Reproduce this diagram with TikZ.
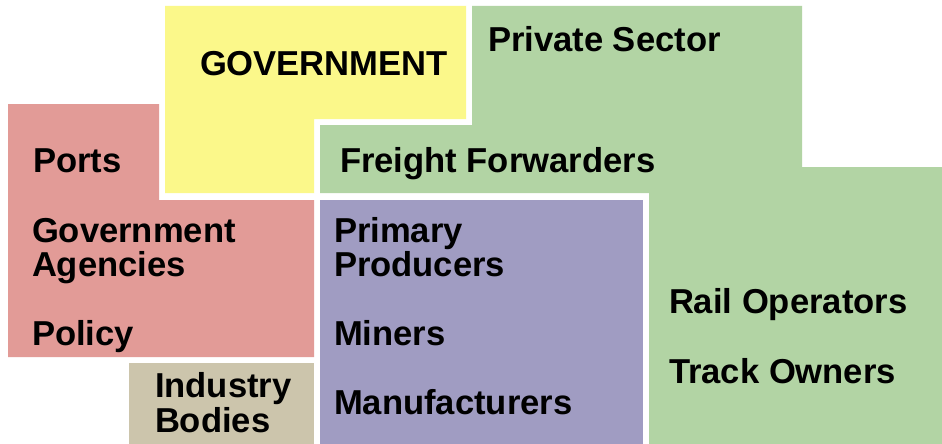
\documentclass[tikz,border=0pt]{standalone}
\usepackage{fontspec}
\setmainfont{Liberation Sans}
\definecolor{govyellow}{HTML}{FBF88A}
\definecolor{privgreen}{HTML}{B2D4A4}
\definecolor{agencyred}{HTML}{E29B97}
\definecolor{bodytan}{HTML}{CCC5AC}
\definecolor{producerpurple}{HTML}{A09CC2}
\begin{document}
\begin{tikzpicture}[x=1pt,y=-1pt,
  label/.style={anchor=base west,inner sep=0pt,outer sep=0pt,
    font=\fontsize{34.6}{35}\selectfont\bfseries,text=black}]
\useasboundingbox (0,0) rectangle (942,444);
\fill[white] (0,0) rectangle (942,444);

% sector regions
\fill[govyellow] (165,6) -- (466,6) -- (466,119) -- (314,119) -- (314,193) -- (165,193) -- cycle;
\fill[privgreen] (472,6) -- (802,6) -- (802,167) -- (942,167) -- (942,444)
  -- (649,444) -- (649,193) -- (320,193) -- (320,125) -- (472,125) -- cycle;
\fill[agencyred] (8,104) -- (159,104) -- (159,200) -- (314,200) -- (314,357) -- (8,357) -- cycle;
\fill[bodytan] (129,363) rectangle (314,444);
\fill[producerpurple] (320,200) rectangle (643,444);

% labels
\node[label] (gov) at (200,75) {GOVERNMENT};
\node[label] (priv) at (488,52) {Private Sector};
\node[label] (freight) at (340,172) {Freight Forwarders};
\node[label] (ports) at (33,172) {Ports};
\node[label] (agency1) at (32,242) {Government};
\node[label] (agency2) at (32,276) {Agencies};
\node[label] (policy) at (32,345) {Policy};
\node[label] (ind1) at (155,397) {Industry};
\node[label] (ind2) at (155,432) {Bodies};
\node[label] (prim1) at (334,242) {Primary};
\node[label] (prim2) at (334,276) {Producers};
\node[label] (miners) at (334,345) {Miners};
\node[label] (manuf) at (334,414) {Manufacturers};
\node[label] (rail) at (669,313) {Rail Operators};
\node[label] (track) at (669,383) {Track Owners};
\end{tikzpicture}
\end{document}
